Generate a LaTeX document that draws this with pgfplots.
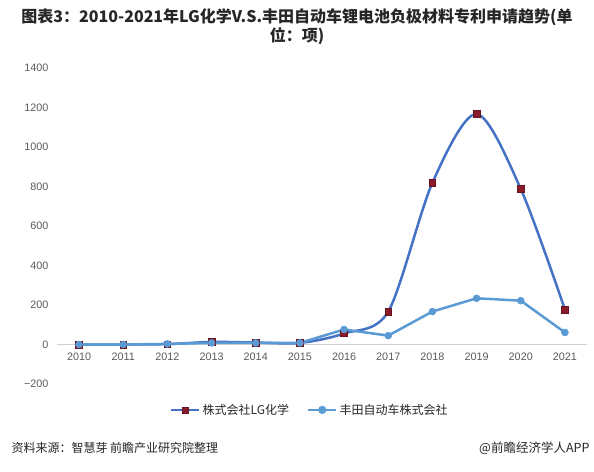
\documentclass[border=0pt]{standalone}
\usepackage{pgfplots}
\pgfplotsset{compat=1.18}
\usepackage{fontspec}
\setmainfont{Liberation Sans}
\newfontfamily\cjk{Noto Sans CJK SC}
\definecolor{lgline}{HTML}{4472C4}
\definecolor{tyline}{HTML}{5B9BD5}
\definecolor{lgmark}{HTML}{8B1A2B}
\definecolor{ticktext}{HTML}{595959}
\definecolor{titletext}{HTML}{262626}
\begin{document}
\begin{tikzpicture}
\useasboundingbox (0,0) rectangle (594pt,-471pt);
\node[font=\cjk\bfseries\fontsize{16}{19}\selectfont, align=center, text=titletext] at (297pt,-27pt)
 {图表3：2010-2021年LG化学V.S.丰田自动车锂电池负极材料专利申请趋势(单\\位：项)};
\begin{axis}[
 at={(57pt,-384pt)}, anchor=south west,
 width=530pt, height=316pt, scale only axis,
 xmin=-0.5, xmax=11.5, ymin=-200, ymax=1400,
 axis x line=middle, axis y line=left,
 x axis line style={draw=gray!35, line width=0.8pt, -},
 y axis line style={draw=none},
 tick style={draw=none},
 xtick={0,1,2,3,4,5,6,7,8,9,10,11},
 xticklabels={2010,2011,2012,2013,2014,2015,2016,2017,2018,2019,2020,2021},
 ytick={-200,0,200,400,600,800,1000,1200,1400},
 yticklabels={−200,0,200,400,600,800,1000,1200,1400},
 hide obscured x ticks=false, hide obscured y ticks=false,
 tick label style={font=\fontsize{10.8}{12}\selectfont, text=ticktext},
 x tick label style={yshift=-3pt},
 y tick label style={xshift=-3pt},
 /pgf/number format/assume math mode=true,
 /pgf/number format/1000 sep={},
 legend style={at={(0.477,-0.082)}, anchor=center, legend columns=2, draw=none, fill=none,
   font=\cjk\fontsize{12}{14}\selectfont, text=titletext,
   /tikz/every even column/.append style={column sep=16pt}},
 legend cell align=left,
 clip=false,
]
\addplot[lgline, line width=2.5pt, smooth, tension=0.5,
  mark=square*, mark size=3.3pt, mark options={fill=lgmark, draw=lgmark!75!black, line width=0.6pt},
  legend image code/.code={\draw[lgline, line width=2.5pt] (0pt,0pt) -- (28pt,0pt);
     \draw[fill=lgmark, draw=lgmark!75!black, line width=0.5pt] (11pt,-3pt) rectangle (17pt,3pt);}]
 coordinates {(0,0) (1,0) (2,2) (3,13) (4,10) (5,8) (6,56) (7,167) (8,819) (9,1167) (10,788) (11,177)};
\addlegendentry{株式会社LG化学}
\addplot[tyline, line width=2.5pt,
  mark=*, mark size=3.5pt, mark options={fill=tyline, draw=tyline, line width=0.5pt},
  legend image code/.code={\draw[tyline, line width=2.5pt] (0pt,0pt) -- (28pt,0pt);
     \fill[tyline] (14pt,0pt) circle (2.8pt);}]
 coordinates {(0,0) (1,0) (2,3) (3,8) (4,8) (5,8) (6,76) (7,45) (8,167) (9,234) (10,222) (11,61)};
\addlegendentry{丰田自动车株式会社}
\end{axis}
\node[anchor=west, font=\cjk\fontsize{12}{14}\selectfont, text=titletext] at (8pt,-448pt) {资料来源：智慧芽 前瞻产业研究院整理};
\node[anchor=east, font=\cjk\fontsize{12.5}{14}\selectfont, text=titletext] at (593pt,-448pt) {@前瞻经济学人APP};
\end{tikzpicture}
\end{document}
